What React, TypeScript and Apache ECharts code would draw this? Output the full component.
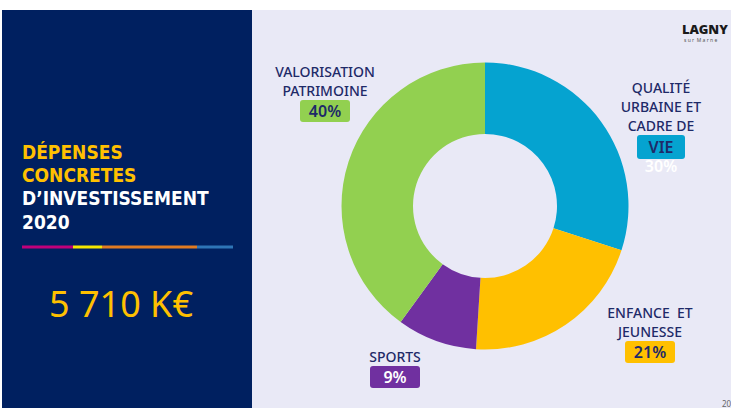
import React, { useEffect, useRef } from "react";
import * as echarts from "echarts";

const categories = [
  "QUALITÉ URBAINE ET CADRE DE VIE",
  "ENFANCE ET JEUNESSE",
  "SPORTS",
  "VALORISATION PATRIMOINE",
];
const values = [30, 21, 9, 40];
const sliceColors = ["#05A3D0", "#FFC000", "#7030A0", "#92D050"];
const nameLines = [
  ["QUALITÉ", "URBAINE ET", "CADRE DE"],
  ["ENFANCE  ET", "JEUNESSE"],
  ["SPORTS"],
  ["VALORISATION", "PATRIMOINE"],
];
const boxWords = ["VIE", "", "", ""];
const titleLines = ["DÉPENSES", "CONCRETES", "D\u2019INVESTISSEMENT", "2020"];
const totalText = "5 710 K€";

const NAVY = "#002060";
const LABEL = "#1E2A68";
const FONT = "'Noto Sans', sans-serif";
const TITLE_FONT = "'DejaVu Sans Condensed', 'Noto Sans', sans-serif";

const labelAnchors = [
  { x: 661, y: 78 },
  { x: 650, y: 303 },
  { x: 395, y: 347 },
  { x: 325, y: 62 },
];

export default function App() {
  const ref = useRef<HTMLDivElement>(null);
  useEffect(() => {
    if (!ref.current) return;
    const chart = echarts.init(ref.current, null, { renderer: "svg" });
    const rich: any = {
      n: { color: LABEL, fontSize: 14, fontFamily: FONT, fontWeight: 500, lineHeight: 19, align: "center" },
      w: { color: "#FFFFFF", fontSize: 16, fontFamily: FONT, fontWeight: 600, lineHeight: 14, align: "center" },
    };
    sliceColors.forEach((c, i) => {
      rich["b" + i] = {
        backgroundColor: c,
        color: i === 2 ? "#FFFFFF" : LABEL,
        fontSize: 16,
        fontWeight: 600,
        fontFamily: FONT,
        width: i === 0 ? 48 : 50,
        height: i === 0 ? 24 : 22,
        lineHeight: i === 0 ? 24 : 22,
        align: "center",
        borderRadius: 3,
      };
    });
    const fmt = (p: any) => {
      const i = p.dataIndex;
      const lines = nameLines[i].map((l) => `{n|${l}}`);
      if (boxWords[i]) {
        lines.push(`{b${i}|${boxWords[i]}}`);
        lines.push(`{w|${values[i]}%}`);
      } else {
        lines.push(`{b${i}|${values[i]}%}`);
      }
      return lines.join("\n");
    };
    const stripe = [
      { x1: 22, x2: 73, c: "#C0007A" },
      { x1: 73, x2: 102, c: "#F5E600" },
      { x1: 102, x2: 197, c: "#E07B22" },
      { x1: 197, x2: 233, c: "#2E75B6" },
    ];
    const titleCenters = [152, 175, 198, 221.5];
    chart.setOption({
      animation: false,
      backgroundColor: "#FFFFFF",
      graphic: [
        { type: "rect", z: -10, shape: { x: 252, y: 10, width: 479, height: 398 }, style: { fill: "#E9E9F6" } },
        { type: "rect", z: -10, shape: { x: 2, y: 10, width: 250, height: 398 }, style: { fill: NAVY } },
        ...titleLines.map((t, i) => ({
          type: "text",
          x: 22,
          y: titleCenters[i],
          style: {
            text: t,
            fill: i < 2 ? "#FFC000" : "#FFFFFF",
            font: `bold 19px ${TITLE_FONT}`,
            textVerticalAlign: "middle",
          },
        })),
        ...stripe.map((s) => ({
          type: "line",
          shape: { x1: s.x1, y1: 247, x2: s.x2, y2: 247 },
          style: { stroke: s.c, lineWidth: 3 },
        })),
        {
          type: "text",
          x: 121,
          y: 303,
          style: {
            text: totalText,
            fill: "#FFC000",
            font: `36px ${FONT}`,
            textAlign: "center",
            textVerticalAlign: "middle",
          },
        },
        {
          type: "text",
          x: 682,
          y: 29,
          style: { text: "LAGNY", fill: "#1A1A1A", font: `900 13px ${FONT}`, textVerticalAlign: "middle" },
        },
        {
          type: "text",
          x: 684,
          y: 39.5,
          style: { text: "s u r  M a r n e", fill: "#555555", font: `5px ${FONT}`, textVerticalAlign: "middle" },
        },
        {
          type: "text",
          x: 722,
          y: 399,
          style: { text: "20", fill: "#666666", font: `8px ${FONT}` },
        },
      ],
      series: [
        {
          type: "pie",
          center: [485, 206],
          radius: [72, 143.5],
          startAngle: 90,
          clockwise: true,
          avoidLabelOverlap: false,
          data: categories.map((name, i) => ({
            name,
            value: values[i],
            itemStyle: { color: sliceColors[i] },
          })),
          label: {
            show: true,
            position: "outside",
            formatter: fmt,
            rich,
          },
          labelLine: { show: false },
          labelLayout: (p: any) => ({
            x: labelAnchors[p.dataIndex].x,
            y: labelAnchors[p.dataIndex].y,
            align: "center",
            verticalAlign: "top",
          }),
          emphasis: { disabled: true },
        },
      ],
    });
    return () => chart.dispose();
  }, []);
  return (
    <div
      ref={ref}
      style={{ position: "fixed", left: 0, top: 0, width: 731, height: 408 }}
    />
  );
}
